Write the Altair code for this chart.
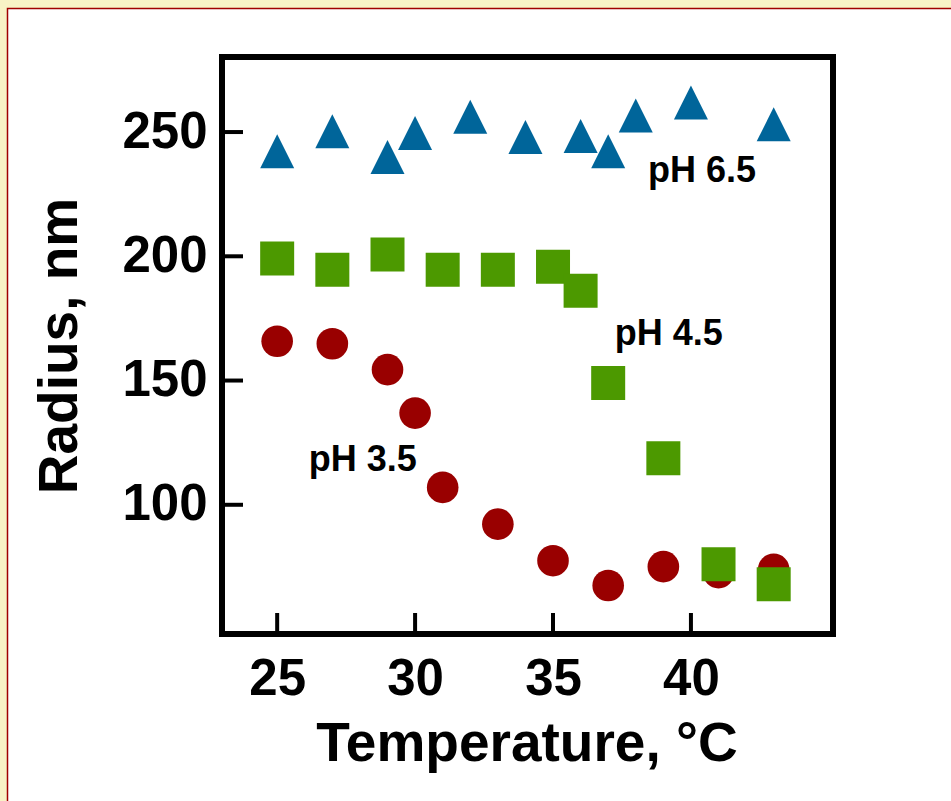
import altair as alt
import pandas as pd

# ---- data ----
x_ph35 = [25, 27, 29, 30, 31, 33, 35, 37, 39, 41, 43]
r_ph35 = [165.8, 164.8, 154.4, 136.9, 107.0, 92.2, 77.5, 67.5, 75.1, 72.7, 74.0]

x_ph45 = [25, 27, 29, 31, 33, 35, 36, 37, 39, 41, 43]
r_ph45 = [199.1, 194.6, 200.7, 194.6, 194.6, 195.8, 186.1, 149.0, 118.7, 76.1, 68.0]

x_ph65 = [25, 27, 29, 30, 32, 34, 36, 37, 38, 40, 43]
r_ph65 = [242.3, 250.3, 240.0, 249.6, 256.2, 248.0, 248.4, 242.3, 256.7, 261.9, 253.1]

label_text = ["pH 6.5", "pH 4.5", "pH 3.5"]
label_x = [40.4, 39.2, 28.1]
label_y = [234.4, 168.9, 118.2]

x_ticks = [25, 30, 35, 40]
y_ticks = [100, 150, 200, 250]

# ---- layout ----
W, H = 611, 577
L, T = 222, 57
PAD = {"left": L, "top": T, "right": 951 - L - W, "bottom": 801 - T - H}
FONT = "Liberation Sans"
CREAM = "#F8F3C6"

xs = alt.Scale(domain=[23, 45.15], nice=False, zero=False)
ys = alt.Scale(domain=[48, 280.2], nice=False, zero=False)

df35 = pd.DataFrame({"t": x_ph35, "r": r_ph35})
df45 = pd.DataFrame({"t": x_ph45, "r": r_ph45})
df65 = pd.DataFrame({"t": x_ph65, "r": r_ph65})
dlab = pd.DataFrame({"t": label_x, "r": label_y, "txt": label_text})
dxt = pd.DataFrame({"t": x_ticks})
dyt = pd.DataFrame({"r": y_ticks})
one = pd.DataFrame({"k": [0]})

# decorative page: cream margin strips and the dark-red panel border
strip_top = alt.Chart(one).mark_rect(fill=CREAM).encode(
    x=alt.value(-L), x2=alt.value(W + 200), y=alt.value(-T), y2=alt.value(-T + 8))
strip_left = alt.Chart(one).mark_rect(fill=CREAM).encode(
    x=alt.value(-L), x2=alt.value(-L + 7), y=alt.value(-T), y2=alt.value(H + 200))
border = alt.Chart(one).mark_rect(fill=None, stroke="#A00000", strokeWidth=1.5).encode(
    x=alt.value(-L + 7.5), x2=alt.value(W + 300), y=alt.value(-T + 8.5), y2=alt.value(H + 300))

x_enc = alt.X("t:Q", scale=xs, axis=alt.Axis(
    values=x_ticks, title="Temperature, °C", titleX=W / 2 - 1,
    titleY=126, titleBaseline="alphabetic", titleAlign="center",
    labelPadding=20,
))
y_enc = alt.Y("r:Q", scale=ys, axis=alt.Axis(
    values=y_ticks, title="Radius, nm", titleX=-146, titleY=H / 2,
    titleAngle=270, titleBaseline="alphabetic", titleAlign="center",
    labelPadding=15,
))

circles = alt.Chart(df35).mark_point(
    shape="circle", filled=True, size=1000, color="#990000", opacity=1
).encode(x=x_enc, y=y_enc)

squares = alt.Chart(df45).mark_point(
    shape="square", filled=True, size=1156, color="#4C9900", opacity=1
).encode(x=alt.X("t:Q", scale=xs), y=alt.Y("r:Q", scale=ys))

triangles = alt.Chart(df65).mark_point(
    shape="M0,-1L1,1L-1,1Z", filled=True, size=1156, color="#00659A", opacity=1
).encode(x=alt.X("t:Q", scale=xs), y=alt.Y("r:Q", scale=ys))

labels = alt.Chart(dlab).mark_text(
    font=FONT, fontWeight="bold", fontSize=36, color="black",
    align="center", baseline="middle"
).encode(x=alt.X("t:Q", scale=xs), y=alt.Y("r:Q", scale=ys), text="txt:N")

xticks = alt.Chart(dxt).mark_rule(color="black", strokeWidth=4).encode(
    x=alt.X("t:Q", scale=xs), y=alt.value(H - 21), y2=alt.value(H)
)
yticks = alt.Chart(dyt).mark_rule(color="black", strokeWidth=4).encode(
    y=alt.Y("r:Q", scale=ys), x=alt.value(0), x2=alt.value(21)
)

frame = alt.Chart(one).mark_rect(fill=None, stroke="black", strokeWidth=6).encode(
    x=alt.value(0), x2=alt.value(W), y=alt.value(0), y2=alt.value(H))

chart = alt.layer(
    strip_top, strip_left, border,
    circles, squares, triangles, labels, xticks, yticks, frame
).properties(
    width=W, height=H, background="white",
    autosize=alt.AutoSizeParams(type="none"), padding=PAD,
).configure_view(stroke=None).configure_axis(
    grid=False, domain=False, ticks=False,
    labelFont=FONT, labelFontWeight="bold", labelFontSize=51, labelColor="black",
    titleFont=FONT, titleFontWeight="bold", titleFontSize=55, titleColor="black",
)

chart.save("out.html", embed_options={"renderer": "svg", "actions": False})
